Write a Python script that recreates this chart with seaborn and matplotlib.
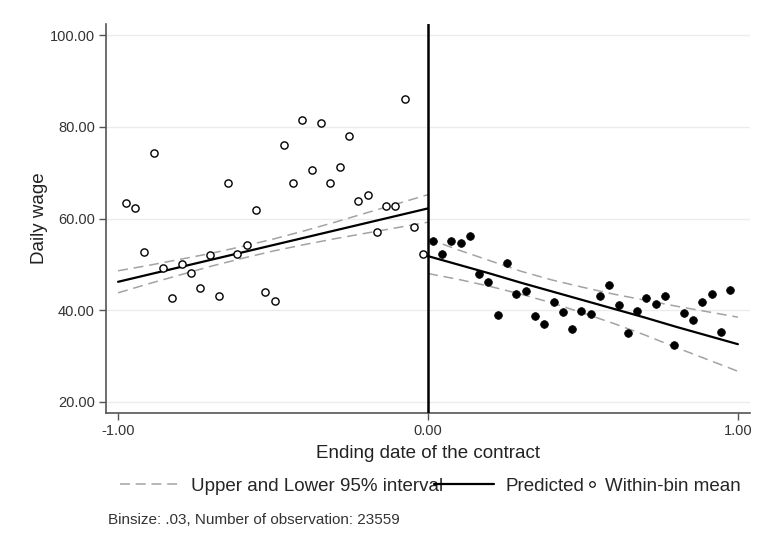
import numpy as np
import matplotlib
matplotlib.use("Agg")
import matplotlib.pyplot as plt
from matplotlib.lines import Line2D
from matplotlib.ticker import FormatStrFormatter
import seaborn as sns

# within-bin means, left of the cutoff (open) and right of it (filled)
left_x = [-0.975, -0.945, -0.915, -0.885, -0.855, -0.825, -0.795, -0.765, -0.735,
          -0.705, -0.675, -0.645, -0.615, -0.585, -0.555, -0.525, -0.495, -0.465,
          -0.435, -0.405, -0.375, -0.345, -0.315, -0.285, -0.255, -0.225, -0.195,
          -0.165, -0.135, -0.105, -0.075, -0.045, -0.015]
left_mean = [63.3, 62.2, 52.6, 74.3, 49.2, 42.7, 50.1, 48.2, 44.9,
             52.0, 43.0, 67.7, 52.3, 54.2, 61.8, 43.9, 42.1, 76.0,
             67.7, 81.4, 70.6, 80.9, 67.7, 71.2, 78.0, 63.8, 65.2,
             57.1, 62.8, 62.7, 86.1, 58.2, 52.3]

right_x = [0.015, 0.045, 0.075, 0.105, 0.135, 0.165, 0.195, 0.225, 0.255,
           0.285, 0.315, 0.345, 0.375, 0.405, 0.435, 0.465, 0.495, 0.525,
           0.555, 0.585, 0.615, 0.645, 0.675, 0.705, 0.735, 0.765, 0.795,
           0.825, 0.855, 0.885, 0.915, 0.945, 0.975]
right_mean = [55.0, 52.3, 55.2, 54.7, 56.1, 48.0, 46.1, 39.0, 50.3,
              43.5, 44.3, 38.8, 37.0, 41.9, 39.7, 36.0, 39.9, 39.2,
              43.0, 45.5, 41.1, 35.1, 39.9, 42.7, 41.4, 43.0, 32.4,
              39.5, 37.9, 41.9, 43.6, 35.3, 44.5]

# fitted line and 95% band
fit_left_x = [-1.0, -0.9, -0.8, -0.7, -0.6, -0.5, -0.4, -0.3, -0.2, -0.1, 0.0]
fit_left = [46.2, 47.8, 49.4, 51.0, 52.6, 54.2, 55.8, 57.4, 59.0, 60.6, 62.2]
upper_left = [48.6, 49.8, 51.1, 52.4, 53.9, 55.5, 57.3, 59.2, 61.2, 63.2, 65.2]
lower_left = [43.8, 45.8, 47.7, 49.6, 51.3, 52.9, 54.3, 55.6, 56.8, 58.0, 59.2]

fit_right_x = [0.0, 0.1, 0.2, 0.3, 0.4, 0.5, 0.6, 0.7, 0.8, 0.9, 1.0]
fit_right = [51.8, 49.9, 48.0, 46.0, 44.1, 42.2, 40.3, 38.4, 36.4, 34.5, 32.6]
upper_right = [55.6, 53.1, 50.8, 48.5, 46.6, 45.0, 43.5, 42.2, 40.9, 39.7, 38.5]
lower_right = [48.0, 46.7, 45.2, 43.5, 41.6, 39.4, 37.1, 34.6, 31.9, 29.3, 26.7]

y_ticks = [20, 40, 60, 80, 100]
x_ticks = [-1, 0, 1]

sns.set_theme(style="white")
plt.rcParams['font.family'] = ['Liberation Sans', 'DejaVu Sans']

W, H = 757, 549
fig = plt.figure(figsize=(W / 100, H / 100), dpi=100)
ax = fig.add_axes([106 / W, 1 - 413 / H, (750 - 106) / W, (413 - 24) / H])

ci_color = '#a3a3a3'
dash = (0, (6.5, 3.8))
for xs, up, lo, fit in [(fit_left_x, upper_left, lower_left, fit_left),
                        (fit_right_x, upper_right, lower_right, fit_right)]:
    sns.lineplot(x=xs, y=up, ax=ax, color=ci_color, lw=1.1, linestyle=dash,
                 errorbar=None, sort=False, zorder=2)
    sns.lineplot(x=xs, y=lo, ax=ax, color=ci_color, lw=1.1, linestyle=dash,
                 errorbar=None, sort=False, zorder=2)
    sns.lineplot(x=xs, y=fit, ax=ax, color='black', lw=1.6,
                 errorbar=None, sort=False, zorder=2.5)

sns.scatterplot(x=left_x, y=left_mean, ax=ax, marker='o', color='white',
                edgecolor='black', linewidth=1.0, s=27, zorder=3)
sns.scatterplot(x=right_x, y=right_mean, ax=ax, marker='o', color='black',
                edgecolor='black', linewidth=0.5, s=31, zorder=3)

ax.axvline(0, color='black', lw=1.8, zorder=4)

ax.set_xlim(-1.039, 1.039)
ax.set_ylim(17.6, 102.4)
ax.set_xticks(x_ticks)
ax.set_yticks(y_ticks)
ax.xaxis.set_major_formatter(FormatStrFormatter('%.2f'))
ax.yaxis.set_major_formatter(FormatStrFormatter('%.2f'))
ax.yaxis.grid(True, color='#ececec', lw=1.0)
ax.set_axisbelow(True)

for side in ['top', 'right']:
    ax.spines[side].set_visible(False)
for side in ['left', 'bottom']:
    ax.spines[side].set_color('#555555')
    ax.spines[side].set_linewidth(1.2)

ax.tick_params(axis='both', bottom=True, left=True, direction='out', length=5,
               width=1, color='#555555', labelsize=10.5, labelcolor='#333333', pad=3)

ax.set_xlabel('Ending date of the contract', fontsize=13.5, color='#222222', labelpad=5)
ax.set_ylabel('Daily wage', fontsize=13.5, color='#222222', labelpad=1)

h_ci = Line2D([], [], color=ci_color, lw=1.1, linestyle=dash)
h_fit = Line2D([], [], color='black', lw=1.6)
h_pts = Line2D([], [], color='none', marker='o', markerfacecolor='white',
               markeredgecolor='black', markersize=4, markeredgewidth=0.8)

leg_y = 1 - 486 / H
fig.legend([h_ci, h_fit], ['Upper and Lower 95% interval', 'Predicted'],
           loc='center left', bbox_to_anchor=(120 / W, leg_y), ncol=2,
           frameon=False, fontsize=13.5, handlelength=3.2, handletextpad=0.6,
           columnspacing=-0.5, borderaxespad=0, borderpad=0)
fig.legend([h_pts], ['Within-bin mean'],
           loc='center left', bbox_to_anchor=(586 / W, leg_y),
           frameon=False, fontsize=13.5, handlelength=0.6, handletextpad=0.4,
           borderaxespad=0, borderpad=0)

fig.text(108 / W, 1 - 520 / H, 'Binsize: .03, Number of observation: 23559',
         fontsize=11, color='#333333', va='center')

fig.savefig('out.png', dpi=100)
